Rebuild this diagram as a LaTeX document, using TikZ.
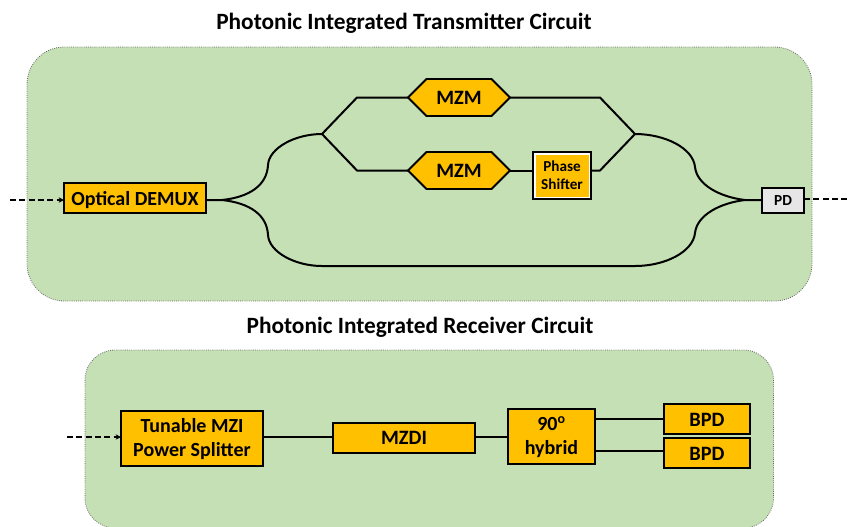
\documentclass[tikz,border=0pt]{standalone}
\usepackage{fontspec}
\setmainfont{Carlito}
\usetikzlibrary{shapes.symbols,arrows.meta}
\def\pxu{*0.75pt}
\newcommand{\lowered}[2]{\raisebox{0pt}[\dimexpr\height+#1*2\relax][\depth]{#2}}
\newcommand{\twolines}[3]{\lowered{#1}{\begin{tabular}{@{}c@{}}#2\\#3\end{tabular}}}
\definecolor{panelgreen}{RGB}{197,224,180}
\definecolor{boxorange}{RGB}{255,192,0}
\definecolor{pdgray}{RGB}{231,230,230}
\tikzset{
  panel/.style={fill=panelgreen,draw=black!60,line width=0.6pt,densely dotted},
  title/.style={font=\fontsize{17.5}{20}\selectfont\bfseries,inner sep=0pt},
  orangebox/.style={draw=black,fill=boxorange,line width=1.5pt,inner sep=0pt,outer sep=0pt,align=center,font=\fontsize{15.3}{20}\selectfont\bfseries},
  hexbox/.style={signal,signal to=east and west,signal pointer angle=90,draw=black,fill=boxorange,line width=1.4pt,inner sep=0pt,outer sep=0pt,minimum width=102\pxu,minimum height=37\pxu,font=\fontsize{15.3}{18}\selectfont\bfseries},
  wire/.style={draw=black,line width=1.5pt},
  dashin/.style={draw=black,line width=1pt,dash pattern=on 4.5pt off 2.5pt},
  dashtip/.style={dashin,-{Stealth[length=4pt,width=4pt]}}
}
\begin{document}
\begin{tikzpicture}[x=0.75pt,y=-0.75pt]
\useasboundingbox (0,0) rectangle (848,526);
\begin{scope}
\clip (0,0) rectangle (848,526);
\draw[panel,rounded corners=28pt] (27,47) rectangle (812,301);
\draw[panel,rounded corners=22.5pt] (85,350) rectangle (773.5,528);
\end{scope}
\node[title] (t1) at (404,23.5) {Photonic Integrated Transmitter Circuit};
\node[title] (t2) at (420,327.5) {Photonic Integrated Receiver Circuit};
% transmitter
\node[orangebox,minimum width=142\pxu,minimum height=30\pxu,font=\fontsize{15}{20}\selectfont\bfseries] (demux) at (135,198) {\lowered{1.3pt}{Optical DEMUX}};
\node[hexbox] (mzma) at (459,97.5) {MZM};
\node[hexbox] (mzmb) at (459,170.5) {\lowered{.5pt}{MZM}};
\node[draw=black,fill=white,line width=1.2pt,minimum width=58\pxu,minimum height=47\pxu,inner sep=0pt,outer sep=0pt] (ps) at (562,175.5) {};
\node[fill=boxorange,minimum width=53\pxu,minimum height=42\pxu,inner sep=0pt,font=\fontsize{11.4}{13.5}\selectfont\bfseries] (pstext) at (ps.center) {\twolines{.7pt}{Phase}{Shifter}};
\node[draw=black,fill=pdgray,line width=1.2pt,minimum width=42\pxu,minimum height=25\pxu,inner sep=0pt,outer sep=0pt,font=\fontsize{11.5}{13}\selectfont\bfseries] (pd) at (783,200.5) {PD};
\coordinate (inA) at (10,200);
\coordinate (outA) at (848,199);
\coordinate (jl) at (322,134);
\coordinate (jr) at (635,134);
\coordinate (ula) at (357,97.5);
\coordinate (ulb) at (357,170.5);
\coordinate (ura) at (600,97.5);
\coordinate (urb) at (600,170.5);
\coordinate (dm) at (206,200);
\coordinate (pm) at (762,200);
\draw[dashtip] (inA) -- (inA -| demux.west);
\draw[dashin] (pd.east |- outA) -- (outA);
\draw[wire,line join=round] (mzma.west) -- (ula) -- (jl) -- (ulb) -- (mzmb.west);
\draw[wire,line join=round] (mzma.east) -- (ura) -- (jr) -- (urb) -- (ps.east |- urb);
\draw[wire] (mzmb.east) -- (ps.west |- mzmb.east);
\draw[wire] (dm) -- (222,200) .. controls (250,197) and (267,185) .. (268,165) .. controls (269,148) and (295,134) .. (jl);
\draw[wire] (222,200) .. controls (250,203) and (267,215) .. (268,235) .. controls (269,252) and (295,266) .. (322,266) -- (635,266) .. controls (665,266) and (693,252) .. (695,233) .. controls (697,215) and (720,203) .. (745,200) -- (pm);
\draw[wire] (jr) .. controls (665,134) and (693,148) .. (695,167) .. controls (697,185) and (720,197) .. (745,200);
% receiver
\node[orangebox,minimum width=142\pxu,minimum height=55\pxu,font=\fontsize{15}{18}\selectfont\bfseries] (tun) at (192,438.5) {\twolines{1.2pt}{Tunable MZI}{Power Splitter}};
\node[orangebox,minimum width=142\pxu,minimum height=30\pxu] (mzdi) at (404,438) {MZDI};
\node[orangebox,minimum width=87\pxu,minimum height=55\pxu,font=\fontsize{15}{18}\selectfont\bfseries] (hyb) at (551.5,436.5) {\twolines{.8pt}{90\textsuperscript{o}}{hybrid}};
\node[orangebox,minimum width=86\pxu,minimum height=30\pxu] (bpda) at (707,419) {\lowered{.7pt}{BPD}};
\node[orangebox,minimum width=86\pxu,minimum height=30\pxu] (bpdb) at (707,453) {\lowered{.7pt}{BPD}};
\coordinate (inB) at (67,437);
\draw[dashtip] (inB) -- (inB -| tun.west);
\draw[wire] (tun.east |- 0,437) -- (mzdi.west |- 0,437);
\draw[wire] (mzdi.east |- 0,437) -- (hyb.west |- 0,437);
\draw[wire] (hyb.east |- 0,419) -- (bpda.west |- 0,419);
\draw[wire] (hyb.east |- 0,451) -- (bpdb.west |- 0,451);
\end{tikzpicture}
\end{document}
